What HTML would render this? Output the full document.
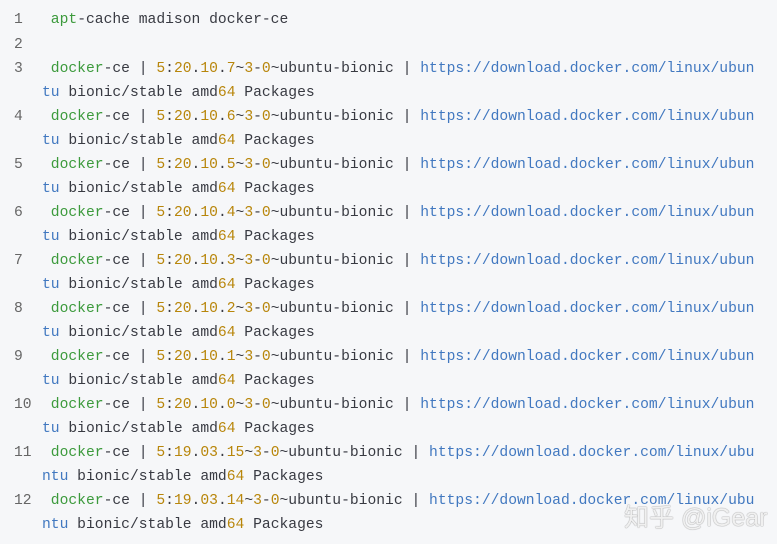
<!DOCTYPE html>
<html><head><meta charset="utf-8"><style>
body{margin:0;width:777px;height:544px;background:#f6f7f9;overflow:hidden;position:relative;font-family:"Liberation Mono",monospace;font-size:14.67px;color:#383a42}
.l{position:absolute;left:0;height:24px;line-height:24px;white-space:pre}
.n{position:absolute;left:14px;color:#666}
.c{position:absolute;left:42px}
g{color:#3c9a3c}o{color:#b8860b}k{color:#4178c0;font-weight:normal}
.w{position:absolute;left:624px;top:498px;font-family:"Liberation Sans","Noto Sans CJK SC",sans-serif;font-size:25px;color:rgba(255,255,255,.85);text-shadow:0 0 1px #999,0 0 1px #999;white-space:pre}
</style></head><body>
<div class="l" style="top:8px"><span class="n">1</span><span class="c"> <g>apt</g>-cache madison docker-ce</span></div>
<div class="l" style="top:33px"><span class="n">2</span></div>
<div class="l" style="top:57px"><span class="n">3</span><span class="c"> <g>docker</g>-ce | <o>5</o>:<o>20</o>.<o>10</o>.<o>7</o>~<o>3</o>-<o>0</o>~ubuntu-bionic | <k>https://download.docker.com/linux/ubun</k></span></div>
<div class="l" style="top:81px"><span class="c"><k>tu</k> bionic/stable amd<o>64</o> Packages</span></div>
<div class="l" style="top:105px"><span class="n">4</span><span class="c"> <g>docker</g>-ce | <o>5</o>:<o>20</o>.<o>10</o>.<o>6</o>~<o>3</o>-<o>0</o>~ubuntu-bionic | <k>https://download.docker.com/linux/ubun</k></span></div>
<div class="l" style="top:129px"><span class="c"><k>tu</k> bionic/stable amd<o>64</o> Packages</span></div>
<div class="l" style="top:153px"><span class="n">5</span><span class="c"> <g>docker</g>-ce | <o>5</o>:<o>20</o>.<o>10</o>.<o>5</o>~<o>3</o>-<o>0</o>~ubuntu-bionic | <k>https://download.docker.com/linux/ubun</k></span></div>
<div class="l" style="top:177px"><span class="c"><k>tu</k> bionic/stable amd<o>64</o> Packages</span></div>
<div class="l" style="top:201px"><span class="n">6</span><span class="c"> <g>docker</g>-ce | <o>5</o>:<o>20</o>.<o>10</o>.<o>4</o>~<o>3</o>-<o>0</o>~ubuntu-bionic | <k>https://download.docker.com/linux/ubun</k></span></div>
<div class="l" style="top:225px"><span class="c"><k>tu</k> bionic/stable amd<o>64</o> Packages</span></div>
<div class="l" style="top:249px"><span class="n">7</span><span class="c"> <g>docker</g>-ce | <o>5</o>:<o>20</o>.<o>10</o>.<o>3</o>~<o>3</o>-<o>0</o>~ubuntu-bionic | <k>https://download.docker.com/linux/ubun</k></span></div>
<div class="l" style="top:273px"><span class="c"><k>tu</k> bionic/stable amd<o>64</o> Packages</span></div>
<div class="l" style="top:297px"><span class="n">8</span><span class="c"> <g>docker</g>-ce | <o>5</o>:<o>20</o>.<o>10</o>.<o>2</o>~<o>3</o>-<o>0</o>~ubuntu-bionic | <k>https://download.docker.com/linux/ubun</k></span></div>
<div class="l" style="top:321px"><span class="c"><k>tu</k> bionic/stable amd<o>64</o> Packages</span></div>
<div class="l" style="top:345px"><span class="n">9</span><span class="c"> <g>docker</g>-ce | <o>5</o>:<o>20</o>.<o>10</o>.<o>1</o>~<o>3</o>-<o>0</o>~ubuntu-bionic | <k>https://download.docker.com/linux/ubun</k></span></div>
<div class="l" style="top:369px"><span class="c"><k>tu</k> bionic/stable amd<o>64</o> Packages</span></div>
<div class="l" style="top:393px"><span class="n">10</span><span class="c"> <g>docker</g>-ce | <o>5</o>:<o>20</o>.<o>10</o>.<o>0</o>~<o>3</o>-<o>0</o>~ubuntu-bionic | <k>https://download.docker.com/linux/ubun</k></span></div>
<div class="l" style="top:417px"><span class="c"><k>tu</k> bionic/stable amd<o>64</o> Packages</span></div>
<div class="l" style="top:441px"><span class="n">11</span><span class="c"> <g>docker</g>-ce | <o>5</o>:<o>19</o>.<o>03</o>.<o>15</o>~<o>3</o>-<o>0</o>~ubuntu-bionic | <k>https://download.docker.com/linux/ubu</k></span></div>
<div class="l" style="top:465px"><span class="c"><k>ntu</k> bionic/stable amd<o>64</o> Packages</span></div>
<div class="l" style="top:489px"><span class="n">12</span><span class="c"> <g>docker</g>-ce | <o>5</o>:<o>19</o>.<o>03</o>.<o>14</o>~<o>3</o>-<o>0</o>~ubuntu-bionic | <k>https://download.docker.com/linux/ubu</k></span></div>
<div class="l" style="top:513px"><span class="c"><k>ntu</k> bionic/stable amd<o>64</o> Packages</span></div>
<div class="w">知乎 @iGear</div>
</body></html>
